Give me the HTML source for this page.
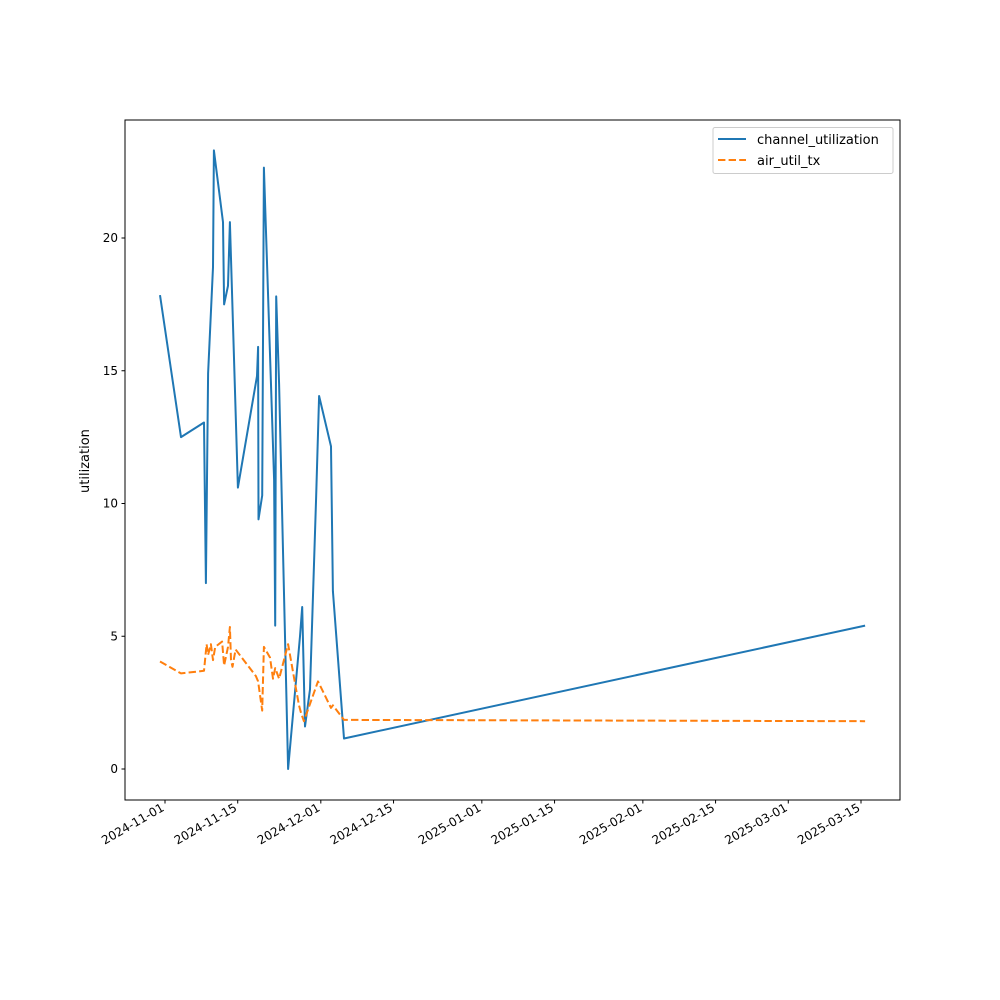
<!DOCTYPE html>
<html><head><meta charset="utf-8"><style>
body{margin:0;background:#fff;}
svg{display:block;font-family:"DejaVu Sans","Liberation Sans",sans-serif;}
</style></head><body>
<svg id="chart" width="1000" height="1000">
<rect x="0" y="0" width="1000" height="1000" fill="#fff"/>
<g id="plot"></g>
<g id="axes"></g>
</svg>
<script>
const blueDates=["2024-10-31T01:00","2024-11-04T02:00","2024-11-08T12:00","2024-11-08T21:00","2024-11-09T07:00","2024-11-10T06:00","2024-11-10T10:00","2024-11-12T04:00","2024-11-12T09:00","2024-11-13T03:00","2024-11-13T12:00","2024-11-15T01:00","2024-11-18T17:00","2024-11-18T22:00","2024-11-19T00:00","2024-11-19T17:00","2024-11-20T01:00","2024-11-22T00:00","2024-11-22T05:00","2024-11-22T10:00","2024-11-22T23:00","2024-11-24T17:00","2024-11-27T00:00","2024-11-27T10:00","2024-11-27T23:00","2024-11-28T22:00","2024-11-30T02:00","2024-11-30T16:00","2024-12-02T23:00","2024-12-03T08:00","2024-12-05T11:00","2025-03-15T19:00"];
const blueValues=[17.85,12.5,13.05,7.0,14.9,18.9,23.3,20.6,17.5,18.2,20.6,10.6,14.8,15.9,9.4,10.3,22.65,10.9,5.4,17.8,14.5,0,5.0,6.1,1.6,3.0,10.2,14.05,12.15,6.7,1.15,5.4];
const orangeDates=["2024-10-31T01:00","2024-11-04T02:00","2024-11-08T12:00","2024-11-09T00:00","2024-11-09T07:00","2024-11-09T20:00","2024-11-10T06:00","2024-11-10T16:00","2024-11-12T00:00","2024-11-12T09:00","2024-11-13T03:00","2024-11-13T12:00","2024-11-13T17:00","2024-11-14T00:00","2024-11-14T14:00","2024-11-18T12:00","2024-11-18T22:00","2024-11-19T17:00","2024-11-20T01:00","2024-11-21T05:00","2024-11-21T19:00","2024-11-22T05:00","2024-11-22T23:00","2024-11-24T17:00","2024-11-26T06:00","2024-11-26T19:00","2024-11-27T05:00","2024-11-27T18:00","2024-11-30T11:00","2024-12-02T23:00","2024-12-03T08:00","2024-12-05T11:00","2025-03-15T19:00"];
const orangeValues=[4.05,3.6,3.7,4.7,4.3,4.7,4.1,4.6,4.8,3.9,4.6,5.35,4.1,3.85,4.5,3.5,3.3,2.2,4.6,4.2,3.4,3.8,3.4,4.7,3.0,2.4,2.1,1.8,3.3,2.3,2.4,1.85,1.8];
const xTickLabels=["2024-11-01","2024-11-15","2024-12-01","2024-12-15","2025-01-01","2025-01-15","2025-02-01","2025-02-15","2025-03-01","2025-03-15"];
const yTickValues=[0,5,10,15,20];

const NS="http://www.w3.org/2000/svg";
const L=125,R=900,T=120,B=800;
const t0=Date.parse("2024-11-01T00:00Z"), pxPerDay=5.194, x0=165;
function xs(d){return x0+(Date.parse(d+(d.length>10?"Z":"T00:00Z"))-t0)/86400000*pxPerDay;}
function ys(v){return 769-v*26.55;}
function mk(tag,attrs,parent){const e=document.createElementNS(NS,tag);for(const k in attrs)e.setAttribute(k,attrs[k]);parent.appendChild(e);return e;}
const plot=document.getElementById('plot'), axes=document.getElementById('axes');

const bp=mk('polyline',{points:blueDates.map((d,i)=>xs(d).toFixed(1)+","+ys(blueValues[i]).toFixed(1)).join(" "),fill:"none",stroke:"#1f77b4","stroke-width":2,"stroke-linejoin":"round"},plot);


const op=mk('polyline',{points:orangeDates.map((d,i)=>xs(d).toFixed(1)+","+ys(orangeValues[i]).toFixed(1)).join(" "),fill:"none",stroke:"#ff7f0e","stroke-width":2,"stroke-dasharray":"7.4,3.2","stroke-linejoin":"round"},plot);



const frame=mk('rect',{x:L,y:T,width:R-L,height:B-T,fill:"none",stroke:"#000","stroke-width":1},axes);



yTickValues.forEach(v=>{
  const y=ys(v);
  mk('line',{x1:L-3.5,x2:L,y1:y,y2:y,stroke:"#000"},axes);
  const t=mk('text',{x:L-7,y:y+4,"text-anchor":"end","font-size":12},axes);
  t.textContent=v;
  
  
});
xTickLabels.forEach(d=>{
  const x=xs(d);
  mk('line',{x1:x,x2:x,y1:B,y2:B+3.5,stroke:"#000"},axes);
  const t=mk('text',{x:x,y:B+10,"text-anchor":"end","font-size":12,transform:`rotate(-30 ${x} ${B+10})`},axes);
  t.textContent=d;
  
  
});
</script>
<text x="512" y="878" text-anchor="middle" font-size="13" font-family="DejaVu Sans, Liberation Sans, sans-serif">time</text>
<script>
const svg=document.getElementById('chart');
const xt=document.querySelector('body > text');svg.appendChild(xt);
const yt=document.createElementNS(NS,'text');
yt.setAttribute('x',89);yt.setAttribute('y',461);yt.setAttribute('text-anchor','middle');yt.setAttribute('font-size',13);
yt.setAttribute('transform','rotate(-90 89 461)');yt.textContent='utilization';


svg.appendChild(yt);
const lg=document.createElementNS(NS,'g');


svg.appendChild(lg);
mk('rect',{x:713,y:127.5,width:180,height:46,rx:2,fill:"#fff",stroke:"#ccc"},lg);
mk('line',{x1:718,x2:746,y1:139,y2:139,stroke:"#1f77b4","stroke-width":2},lg);
mk('line',{x1:718,x2:746,y1:160,y2:160,stroke:"#ff7f0e","stroke-width":2,"stroke-dasharray":"7.4,3.2"},lg);
const l1=mk('text',{x:757,y:144,"font-size":13},lg);l1.textContent='channel_utilization';


const l2=mk('text',{x:757,y:165,"font-size":13},lg);l2.textContent='air_util_tx';


</script>
</body></html>
